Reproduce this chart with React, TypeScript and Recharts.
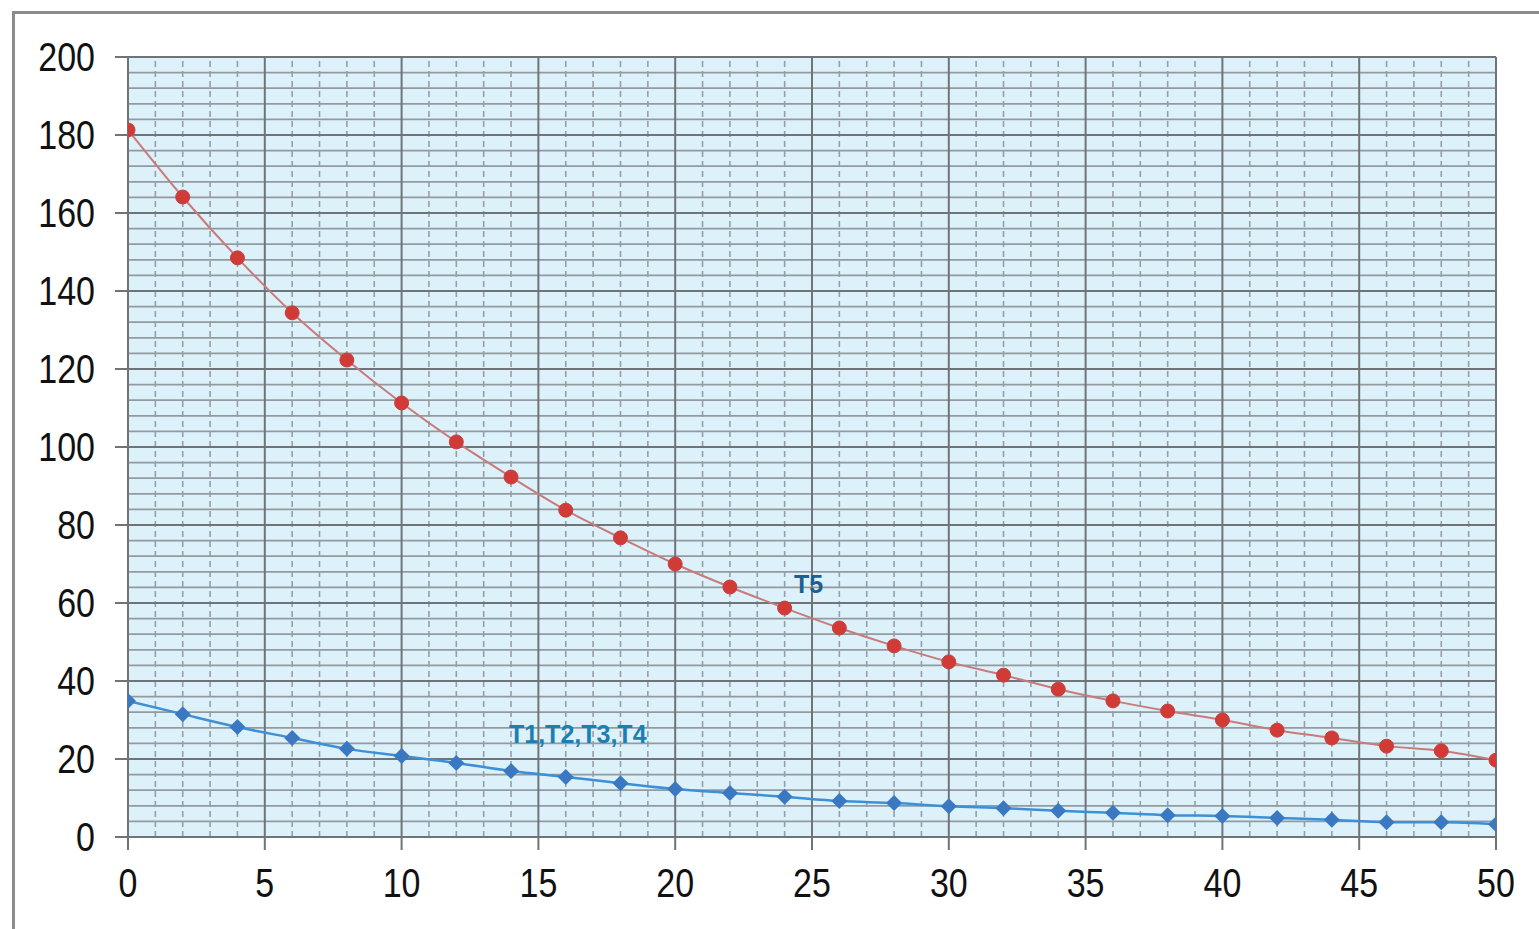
import React from 'react';
import { LineChart, Line, XAxis, YAxis, CartesianGrid, ReferenceLine } from 'recharts';

const timeValues = [0, 2, 4, 6, 8, 10, 12, 14, 16, 18, 20, 22, 24, 26, 28, 30, 32, 34, 36, 38, 40, 42, 44, 46, 48, 50];
const t5Values = [181.3, 164.1, 148.5, 134.4, 122.3, 111.3, 101.3, 92.3, 83.8, 76.7, 70.0, 64.1, 58.7, 53.6, 49.0, 44.9, 41.5, 37.9, 34.9, 32.3, 30.0, 27.4, 25.4, 23.3, 22.1, 19.7];
const t1to4Values = [34.9, 31.5, 28.2, 25.4, 22.6, 20.8, 19.0, 16.9, 15.4, 13.8, 12.3, 11.3, 10.3, 9.2, 8.7, 7.9, 7.4, 6.7, 6.2, 5.6, 5.4, 4.9, 4.4, 3.8, 3.8, 3.3];

const xTicks = [0, 5, 10, 15, 20, 25, 30, 35, 40, 45, 50];
const yTicks = [0, 20, 40, 60, 80, 100, 120, 140, 160, 180, 200];
const xMinor = [1, 2, 3, 4, 6, 7, 8, 9, 11, 12, 13, 14, 16, 17, 18, 19, 21, 22, 23, 24, 26, 27, 28, 29, 31, 32, 33, 34, 36, 37, 38, 39, 41, 42, 43, 44, 46, 47, 48, 49];
const xMajor = [5, 10, 15, 20, 25, 30, 35, 40, 45, 50];
const yMinor = [4, 8, 12, 16, 24, 28, 32, 36, 44, 48, 52, 56, 64, 68, 72, 76, 84, 88, 92, 96, 104, 108, 112, 116, 124, 128, 132, 136, 144, 148, 152, 156, 164, 168, 172, 176, 184, 188, 192, 196];
const yMajor = [20, 40, 60, 80, 100, 120, 140, 160, 180, 200];

const data = timeValues.map((t, i) => ({ t, t5: t5Values[i], t14: t1to4Values[i] }));

const RedDot = (props: any) => {
  const { cx, cy } = props;
  if (cx == null || cy == null) return null;
  return <circle cx={cx} cy={cy} r={7} fill="#d03b37" stroke="#c8403c" strokeWidth={1} />;
};

const BlueDiamond = (props: any) => {
  const { cx, cy } = props;
  if (cx == null || cy == null) return null;
  const s = 8;
  return <polygon points={`${cx},${cy - s} ${cx + s},${cy} ${cx},${cy + s} ${cx - s},${cy}`} fill="#3b78c2" />;
};

const FONT = '"Liberation Sans", Arial, sans-serif';

const NarrowTick = (props: any) => {
  const { x, y, payload, textAnchor, dyEm } = props;
  return (
    <g transform={`translate(${x},${y}) scale(0.85,1)`}>
      <text x={0} y={0} dy={dyEm} textAnchor={textAnchor} fontFamily={FONT} fontSize={40} fill="#111">
        {payload.value}
      </text>
    </g>
  );
};

export default function App() {
  return (
    <div style={{ position: 'absolute', left: 0, top: 0, width: 1539, height: 929, overflow: 'hidden', background: '#fff' }}>
      <div style={{ position: 'absolute', left: 12, top: 11, width: 1560, height: 960, border: '3px solid #8c8c8c', boxSizing: 'border-box' }} />
      <div style={{ position: 'absolute', left: 0, top: 0 }}>
        <LineChart width={1539} height={929} data={data} margin={{ top: 57, right: 43, bottom: 0, left: 0 }}>
          <CartesianGrid horizontal={false} vertical={false} fill="#ddf1fb" stroke="none" />
          {yMinor.map((v) => (
            <ReferenceLine key={'ym' + v} y={v} stroke="#939a9f" strokeWidth={1.8} />
          ))}
          {xMinor.map((v) => (
            <ReferenceLine key={'xm' + v} x={v} stroke="#969fa5" strokeWidth={1.6} strokeDasharray="6 4" />
          ))}
          {yMajor.map((v) => (
            <ReferenceLine key={'yM' + v} y={v} stroke="#6e7478" strokeWidth={2} />
          ))}
          {xMajor.map((v) => (
            <ReferenceLine key={'xM' + v} x={v} stroke="#6e7478" strokeWidth={2} />
          ))}
          <XAxis
            dataKey="t"
            type="number"
            domain={[0, 50]}
            ticks={xTicks}
            height={92}
            tickSize={13}
            tickMargin={19}
            stroke="#6e7478"
            strokeWidth={2}
            tick={<NarrowTick dyEm="0.71em" />}
            allowDataOverflow
          />
          <YAxis
            type="number"
            domain={[0, 200]}
            ticks={yTicks}
            width={128}
            tickSize={13}
            tickMargin={20}
            stroke="#6e7478"
            strokeWidth={2}
            tick={<NarrowTick dyEm="0.355em" />}
            allowDataOverflow
          />
          <Line
            type="monotone"
            dataKey="t14"
            stroke="#3d8fd6"
            strokeWidth={2.5}
            dot={<BlueDiamond />}
            activeDot={false}
            isAnimationActive={false}
          />
          <Line
            type="monotone"
            dataKey="t5"
            stroke="#c97a7a"
            strokeWidth={2}
            dot={<RedDot />}
            activeDot={false}
            isAnimationActive={false}
          />
        </LineChart>
      </div>
      <div style={{ position: 'absolute', left: 794, top: 570, fontFamily: FONT, fontWeight: 700, fontSize: 25, color: '#1f5f90' }}>T5</div>
      <div style={{ position: 'absolute', left: 509, top: 720, fontFamily: FONT, fontWeight: 700, fontSize: 25, color: '#1a7fb3' }}>T1,T2,T3,T4</div>
    </div>
  );
}
